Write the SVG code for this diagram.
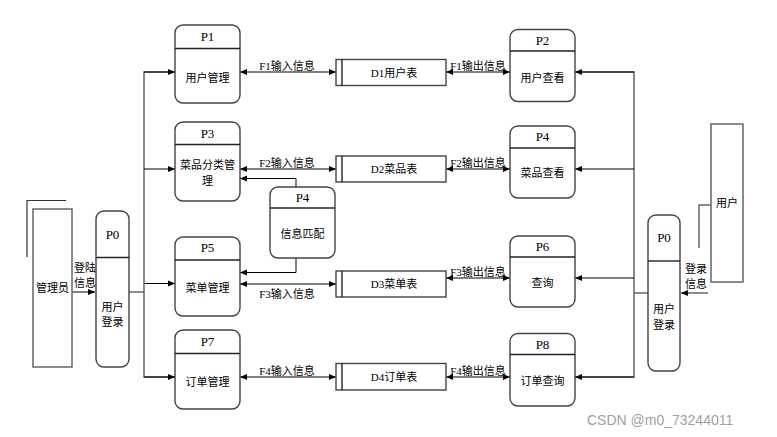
<svg xmlns="http://www.w3.org/2000/svg" width="777" height="437" viewBox="0 0 777 437">
<defs>
<marker id="ah" markerUnits="userSpaceOnUse" markerWidth="8" markerHeight="8" viewBox="0 0 8 8" refX="7" refY="4" orient="auto-start-reverse">
<path d="M0,1 L7,4 L0,7 z" fill="#000"/>
</marker>
<style>
.box{fill:#fff;stroke:#444;stroke-width:1.4}
.div{stroke:#222;stroke-width:1.4}
.ext{fill:#fff;stroke:#666;stroke-width:1.5}
.trunk{fill:none;stroke:#666;stroke-width:1.5}
.flow{fill:none;stroke:#000;stroke-width:1}
.pid{font-family:"Liberation Serif","Noto Sans CJK SC",serif;font-size:13px;text-anchor:middle;fill:#000}
.t{font-family:"Liberation Serif","Noto Sans CJK SC",serif;font-size:11px;text-anchor:middle;fill:#000}
.lbl{font-family:"Liberation Serif","Noto Sans CJK SC",serif;font-size:11px;text-anchor:middle;fill:#000}
.wm{font-family:"Liberation Sans",sans-serif;font-size:14px;fill:#a0a0a0}
</style>
</defs>

<g id="connectors">
<!-- left admin -->
<line class="flow" x1="72" y1="292" x2="95" y2="292" marker-end="url(#ah)"/>
<path class="trunk" d="M129,292 H144"/>
<path class="trunk" d="M175,72 H144 V377 H175"/>
<line class="flow" x1="144" y1="72" x2="175" y2="72" marker-end="url(#ah)"/>
<line class="flow" x1="144" y1="169" x2="175" y2="169" marker-end="url(#ah)"/>
<line class="flow" x1="144" y1="283.5" x2="175" y2="283.5" marker-end="url(#ah)"/>
<line class="flow" x1="144" y1="377" x2="175" y2="377" marker-end="url(#ah)"/>
<!-- data flows -->
<line class="flow" x1="240" y1="72" x2="336" y2="72" marker-start="url(#ah)" marker-end="url(#ah)"/>
<line class="flow" x1="446" y1="72" x2="510" y2="72" marker-start="url(#ah)" marker-end="url(#ah)"/>
<line class="flow" x1="240" y1="169" x2="336" y2="169" marker-start="url(#ah)" marker-end="url(#ah)"/>
<line class="flow" x1="446" y1="169" x2="510" y2="169" marker-start="url(#ah)" marker-end="url(#ah)"/>
<line class="flow" x1="240" y1="284" x2="336" y2="284" marker-start="url(#ah)" marker-end="url(#ah)"/>
<line class="flow" x1="446" y1="278" x2="510" y2="278" marker-start="url(#ah)" marker-end="url(#ah)"/>
<line class="flow" x1="240" y1="377" x2="336" y2="377" marker-start="url(#ah)" marker-end="url(#ah)"/>
<line class="flow" x1="446" y1="377" x2="510" y2="377" marker-start="url(#ah)" marker-end="url(#ah)"/>
<!-- P4 match -->
<path class="flow" d="M296,187 V178.5 H240" marker-end="url(#ah)"/>
<path class="flow" d="M296,258 V272.5 H240" marker-end="url(#ah)"/>
<!-- right trunk -->
<path class="trunk" d="M575,72 H634 V377 H575"/>
<line class="flow" x1="634" y1="72" x2="575" y2="72" marker-end="url(#ah)"/>
<line class="flow" x1="634" y1="169" x2="575" y2="169" marker-end="url(#ah)"/>
<line class="flow" x1="634" y1="278" x2="575" y2="278" marker-end="url(#ah)"/>
<line class="flow" x1="634" y1="377" x2="575" y2="377" marker-end="url(#ah)"/>
<path class="trunk" d="M634,293 H648"/>
<!-- user -->
<path class="trunk" d="M711,205 H699 V248"/>
<line class="trunk" x1="708" y1="293" x2="681" y2="293" marker-end="url(#ah)"/>
<!-- labels -->
<text class="lbl" x="85" y="272">登陆</text>
<text class="lbl" x="85" y="287">信息</text>
<text class="lbl" x="287" y="70">F1输入信息</text>
<text class="lbl" x="478" y="70">F1输出信息</text>
<text class="lbl" x="287" y="167">F2输入信息</text>
<text class="lbl" x="478" y="167">F2输出信息</text>
<text class="lbl" x="287" y="298">F3输入信息</text>
<text class="lbl" x="478" y="276">F3输出信息</text>
<text class="lbl" x="287" y="375">F4输入信息</text>
<text class="lbl" x="478" y="375">F4输出信息</text>
<text class="lbl" x="696" y="273">登录</text>
<text class="lbl" x="696" y="288">信息</text>
</g>

<g id="admin">
<path d="M27,257 V200.5 H66" fill="none" stroke="#333" stroke-width="1.2"/>
<rect class="ext" x="33" y="209" width="39" height="158"/>
<text class="t" x="52.5" y="292">管理员</text>
</g>

<g id="P0-left">
<rect class="box" x="96" y="211" width="33" height="156" rx="8"/>
<line class="div" x1="96" y1="257.5" x2="129" y2="257.5"/>
<text class="pid" x="112.5" y="239">P0</text>
<text class="t" x="112.5" y="311">用户</text>
<text class="t" x="112.5" y="326">登录</text>
</g>

<g id="P1">
<rect class="box" x="175" y="25" width="65" height="78" rx="8"/>
<line class="div" x1="175" y1="48.5" x2="240" y2="48.5"/>
<text class="pid" x="207.5" y="41">P1</text>
<text class="t" x="207.5" y="82">用户管理</text>
</g>

<g id="P3">
<rect class="box" x="175" y="122" width="65" height="79" rx="8"/>
<line class="div" x1="175" y1="144.5" x2="240" y2="144.5"/>
<text class="pid" x="207.5" y="138">P3</text>
<text class="t" x="207.5" y="169">菜品分类管</text>
<text class="t" x="207.5" y="185">理</text>
</g>

<g id="P5">
<rect class="box" x="175" y="237" width="65" height="79" rx="8"/>
<line class="div" x1="175" y1="260" x2="240" y2="260"/>
<text class="pid" x="207.5" y="252">P5</text>
<text class="t" x="207.5" y="292">菜单管理</text>
</g>

<g id="P7">
<rect class="box" x="175" y="330" width="65" height="79" rx="8"/>
<line class="div" x1="175" y1="353.5" x2="240" y2="353.5"/>
<text class="pid" x="207.5" y="346">P7</text>
<text class="t" x="207.5" y="386">订单管理</text>
</g>

<g id="P4-match">
<rect class="box" x="270" y="187" width="65" height="71" rx="8"/>
<line class="div" x1="270" y1="208" x2="335" y2="208"/>
<text class="pid" x="302.5" y="202">P4</text>
<text class="t" x="302.5" y="238">信息匹配</text>
</g>

<g id="D1">
<rect class="box" x="336" y="59.5" width="110" height="26"/>
<line class="div" x1="342" y1="59.5" x2="342" y2="85.5"/>
<text class="t" x="394" y="77">D1用户表</text>
</g>
<g id="D2">
<rect class="box" x="336" y="156" width="110" height="26"/>
<line class="div" x1="342" y1="156" x2="342" y2="182"/>
<text class="t" x="394" y="173">D2菜品表</text>
</g>
<g id="D3">
<rect class="box" x="336" y="271" width="110" height="26"/>
<line class="div" x1="342" y1="271" x2="342" y2="297"/>
<text class="t" x="394" y="288">D3菜单表</text>
</g>
<g id="D4">
<rect class="box" x="336" y="363.5" width="110" height="26.5"/>
<line class="div" x1="342" y1="363.5" x2="342" y2="390"/>
<text class="t" x="394" y="381">D4订单表</text>
</g>

<g id="P2">
<rect class="box" x="510" y="29.5" width="65" height="72" rx="8"/>
<line class="div" x1="510" y1="51" x2="575" y2="51"/>
<text class="pid" x="542.5" y="45">P2</text>
<text class="t" x="542.5" y="82">用户查看</text>
</g>
<g id="P4-view">
<rect class="box" x="510" y="126" width="65" height="72" rx="8"/>
<line class="div" x1="510" y1="148" x2="575" y2="148"/>
<text class="pid" x="542.5" y="141">P4</text>
<text class="t" x="542.5" y="177">菜品查看</text>
</g>
<g id="P6">
<rect class="box" x="510" y="236" width="65" height="71" rx="8"/>
<line class="div" x1="510" y1="257" x2="575" y2="257"/>
<text class="pid" x="542.5" y="251">P6</text>
<text class="t" x="542.5" y="287">查询</text>
</g>
<g id="P8">
<rect class="box" x="510" y="333.5" width="65" height="72.5" rx="8"/>
<line class="div" x1="510" y1="354.5" x2="575" y2="354.5"/>
<text class="pid" x="542.5" y="349">P8</text>
<text class="t" x="542.5" y="385">订单查询</text>
</g>

<g id="P0-right">
<rect class="box" x="648" y="215" width="32" height="156" rx="8"/>
<line class="div" x1="648" y1="261" x2="680" y2="261"/>
<text class="pid" x="664" y="242">P0</text>
<text class="t" x="664" y="313">用户</text>
<text class="t" x="664" y="329">登录</text>
</g>

<g id="user">
<rect class="ext" x="711" y="124" width="32" height="158"/>
<text class="t" x="727" y="207">用户</text>
</g>

<text class="wm" x="587" y="425">CSDN @m0_73244011</text>
</svg>
